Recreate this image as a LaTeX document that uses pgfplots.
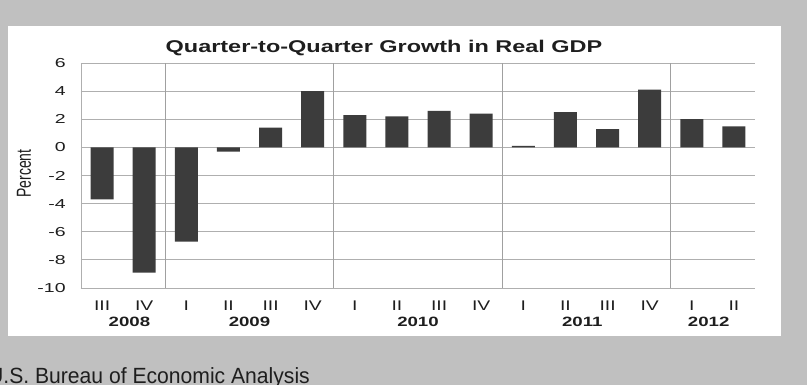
\documentclass[border=0pt]{standalone}
\usepackage{pgfplots}
\usepackage{pgfplotstable}
\usepackage{graphicx}
\usepackage{fontspec}
\setmainfont{Liberation Sans}
\pgfplotsset{compat=1.18}
\definecolor{bggray}{RGB}{192,192,192}
\definecolor{gridgray}{RGB}{175,175,175}
\definecolor{sepgray}{RGB}{160,160,160}
\definecolor{barcol}{RGB}{60,60,60}
\definecolor{txt}{RGB}{30,30,30}
\newcommand\sx[1]{\scalebox{1.38}[1]{#1}}
\newcommand\yrfont{\fontsize{13.5}{13.5}\selectfont\bfseries}
\pgfplotstableread{
x y
0 -3.7
1 -8.9
2 -6.7
3 -0.3
4 1.4
5 4.0
6 2.3
7 2.2
8 2.6
9 2.4
10 0.1
11 2.5
12 1.3
13 4.1
14 2.0
15 1.5
}\gdp
\begin{document}
\begin{tikzpicture}[x=1pt,y=1pt]
\path[use as bounding box] (0pt,0pt) rectangle (807pt,385pt);
\fill[bggray] (0pt,0pt) rectangle (807pt,385pt);
\fill[white] (8pt,49pt) rectangle (781pt,359pt);
\node[anchor=base, inner sep=0pt, text=txt] at (384pt,332pt) {\sx{\fontsize{17}{17}\selectfont\bfseries Quarter-to-Quarter Growth in Real GDP}};
\begin{axis}[
  at={(81pt,97pt)}, anchor=south west,
  scale only axis, width=674pt, height=225pt,
  xmin=-0.5, xmax=15.5, ymin=-10, ymax=6,
  enlargelimits=false,
  ybar, bar width=23pt,
  axis x line=bottom, axis y line=left,
  axis line style={-, draw=gridgray, line width=0.8pt},
  tick style={draw=none},
  ymajorgrids, major grid style={draw=gridgray, line width=0.8pt},
  ytick={-10,-8,...,6},
  yticklabel={\scalebox{1.5}[1]{\pgfmathprintnumber[assume math mode=true]{\tick}}},
  yticklabel style={inner sep=0pt, anchor=east, xshift=-13pt, text=txt, font=\fontsize{13}{13}\selectfont},
  xtick={0,...,15},
  xticklabels={\sx{III},\sx{IV},\sx{I},\sx{II},\sx{III},\sx{IV},\sx{I},\sx{II},\sx{III},\sx{IV},\sx{I},\sx{II},\sx{III},\sx{IV},\sx{I},\sx{II}},
  xticklabel style={inner sep=0pt, anchor=north, yshift=-11pt, text=txt, font=\fontsize{14}{14}\selectfont},
  extra x ticks={1.5,5.5,9.5,13.5},
  extra x tick labels={},
  extra x tick style={grid=major, major grid style={draw=sepgray, line width=0.9pt}},
  ylabel={\scalebox{1.45}[1]{\rotatebox{90}{\fontsize{14}{14}\selectfont Percent}}},
  every axis y label/.style={at={(axis description cs:-0.0846,0.509)}, anchor=center, inner sep=0pt, text=txt},
  clip=false,
]
\addplot[fill=barcol, draw=none] table[x=x, y=y] {\gdp};
\node[anchor=north, inner sep=0pt, yshift=-29pt, text=txt] at (axis cs:0.65,-10) {\sx{\yrfont 2008}};
\node[anchor=north, inner sep=0pt, yshift=-29pt, text=txt] at (axis cs:3.5,-10) {\sx{\yrfont 2009}};
\node[anchor=north, inner sep=0pt, yshift=-29pt, text=txt] at (axis cs:7.5,-10) {\sx{\yrfont 2010}};
\node[anchor=north, inner sep=0pt, yshift=-29pt, text=txt] at (axis cs:11.4,-10) {\sx{\yrfont 2011}};
\node[anchor=north, inner sep=0pt, yshift=-29pt, text=txt] at (axis cs:14.4,-10) {\sx{\yrfont 2012}};
\end{axis}
\node[anchor=base east, inner sep=0pt, text=txt] at (310pt,1pt) {\scalebox{0.96}[1]{\fontsize{22}{22}\selectfont U.S. Bureau of Economic Analysis}};
\end{tikzpicture}
\end{document}
